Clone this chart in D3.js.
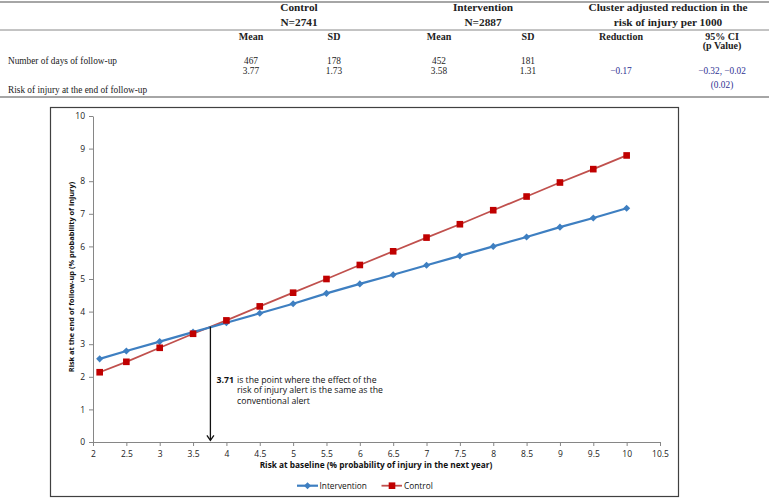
<!DOCTYPE html>
<html><head><meta charset="utf-8">
<script src="https://cdn.jsdelivr.net/npm/d3@7"></script>
<style>body{margin:0;background:#fff}svg{display:block}</style>
</head><body>
<svg id="c" width="769" height="499"></svg>
<script>
// ---- data ----
const baseline = [2.1,2.5,3,3.5,4,4.5,5,5.5,6,6.5,7,7.5,8,8.5,9,9.5,10];
const intervention = [2.55,2.79,3.08,3.37,3.66,3.95,4.24,4.56,4.85,5.13,5.42,5.71,6.00,6.29,6.59,6.87,7.17];
const control = [2.14,2.46,2.89,3.32,3.73,4.16,4.58,5.00,5.43,5.85,6.27,6.68,7.11,7.53,7.96,8.37,8.79];
const xTicks = [2,2.5,3,3.5,4,4.5,5,5.5,6,6.5,7,7.5,8,8.5,9,9.5,10,10.5];
const yTicks = [0,1,2,3,4,5,6,7,8,9,10];
const seriesNames = ["Intervention","Control"];
const crossPoint = 3.76;
const crossLabel = "3.71";

// table data
const groupHeaders = [["Control","N=2741"],["Intervention","N=2887"],["Cluster adjusted reduction in the","risk of injury per 1000"]];
const colHeaders = ["Mean","SD","Mean","SD","Reduction","95% CI"];
const rowLabels = ["Number of days of follow-up","Risk of injury at the end of follow-up"];
const row1 = ["467","178","452","181","",""];
const row2 = ["3.77","1.73","3.58","1.31","\u22120.17","\u22120.32, \u22120.02"];

const svg = d3.select("#c");

// ---- table ----
const serif = "'Liberation Serif', 'Times New Roman', serif";
const colX = [251,334,439,528,621,722];
const groupX = [299,483,668];
const tbl = svg.append("g").attr("font-family", serif).attr("font-size", 9.3).attr("fill","#222");
[[2,1.3],[30,1],[97,1.3]].forEach(([y,w]) => tbl.append("line").attr("x1",0).attr("x2",769).attr("y1",y).attr("y2",y).attr("stroke","#888").attr("stroke-width",w));
groupHeaders.forEach((g,i) => g.forEach((t,j) => tbl.append("text").attr("x",groupX[i]).attr("y",11+j*14.5).attr("text-anchor","middle").attr("font-weight","bold").attr("font-size",11.3).text(t)));
colHeaders.forEach((t,i) => tbl.append("text").attr("x",colX[i]).attr("y",39.5).attr("text-anchor","middle").attr("font-weight","bold").attr("font-size",10).text(t));
tbl.append("text").attr("x",colX[5]).attr("y",49).attr("text-anchor","middle").attr("font-weight","bold").attr("font-size",10).text("(p Value)");
tbl.append("text").attr("x",8).attr("y",64).text(rowLabels[0]);
tbl.append("text").attr("x",8).attr("y",93).text(rowLabels[1]);
row1.forEach((t,i) => tbl.append("text").attr("x",colX[i]).attr("y",63.5).attr("text-anchor","middle").text(t));
row2.forEach((t,i) => tbl.append("text").attr("x",colX[i]).attr("y",73.5).attr("text-anchor","middle").attr("fill", i>=4 ? "#2E3192" : "#222").text(t));
tbl.append("text").attr("x",colX[5]).attr("y",87.5).attr("text-anchor","middle").attr("fill","#2E3192").text("(0.02)");

// ---- chart ----
svg.append("rect").attr("x",50.5).attr("y",107.5).attr("width",628).attr("height",389).attr("fill","#fff").attr("stroke","#404040").attr("stroke-width",1.2);

const x = d3.scaleLinear().domain([2,10.5]).range([93,660]);
const y = d3.scaleLinear().domain([0,10]).range([442,116]);
const sans = "'Open Sans', 'DejaVu Sans', sans-serif";

const xAxis = svg.append("g").attr("transform","translate(0,442)")
  .call(d3.axisBottom(x).tickValues(xTicks).tickSize(4).tickSizeOuter(0).tickFormat(d3.format("")));
const yAxis = svg.append("g").attr("transform","translate(93,0)")
  .call(d3.axisLeft(y).tickValues(yTicks).tickSize(4).tickSizeOuter(0));
[xAxis,yAxis].forEach(a => {
  a.selectAll("path,line").attr("stroke","#868686");
  a.selectAll("text").attr("font-family",sans).attr("font-size",8.5).attr("fill","#222");
});
xAxis.selectAll("text").attr("dy","0.9em");
yAxis.selectAll("text").attr("x",-8);

// axis titles
svg.append("text").attr("x",376).attr("y",468).attr("text-anchor","middle").attr("font-family",sans)
  .attr("font-size",8.3).attr("font-weight","bold").attr("fill","#111").text("Risk at baseline (% probability of injury in the next year)");
svg.append("text").attr("transform","translate(74,277) rotate(-90)").attr("text-anchor","middle").attr("font-family",sans)
  .attr("font-size",7.4).attr("font-weight","bold").attr("fill","#111").text("Risk at the end of follow-up (% probability of injury)");

// series
const blue = "#3E7FC1", redLine = "#C0504D", redMark = "#C00000";
const line = d3.line().x(d => x(d[0])).y(d => y(d[1]));
const intData = baseline.map((b,i) => [b, intervention[i]]);
const ctlData = baseline.map((b,i) => [b, control[i]]);
svg.append("path").datum(ctlData).attr("d",line).attr("fill","none").attr("stroke",redLine).attr("stroke-width",1.8);
svg.append("path").datum(intData).attr("d",line).attr("fill","none").attr("stroke",blue).attr("stroke-width",2.2);
const diamond = d3.symbol().type(d3.symbolDiamond2).size(32);
const square = d3.symbol().type(d3.symbolSquare).size(44);
svg.append("g").selectAll("path").data(intData).join("path")
  .attr("transform", d => `translate(${x(d[0])},${y(d[1])})`).attr("d",diamond).attr("fill",blue);
svg.append("g").selectAll("path").data(ctlData).join("path")
  .attr("transform", d => `translate(${x(d[0])},${y(d[1])})`).attr("d",square).attr("fill",redMark);

// arrow annotation
const ax = x(crossPoint);
svg.append("line").attr("x1",ax).attr("x2",ax).attr("y1",y(3.54)).attr("y2",y(0.05)).attr("stroke","#111").attr("stroke-width",1.3);
svg.append("path").attr("d",`M${ax-3.5},${y(0.05)-5} L${ax},${y(0.05)} L${ax+3.5},${y(0.05)-5}`).attr("fill","none").attr("stroke","#111").attr("stroke-width",1.3);
const ann = svg.append("g").attr("font-family",sans).attr("font-size",8.7).attr("fill","#111");
ann.append("text").attr("x",216.5).attr("y",382.5).attr("font-weight","bold").text(crossLabel);
ann.append("text").attr("x",237).attr("y",382.5).text("is the point where the effect of the");
ann.append("text").attr("x",237).attr("y",393.3).text("risk of injury alert is the same as the");
ann.append("text").attr("x",237).attr("y",404.1).text("conventional alert");

// legend
const lg = svg.append("g").attr("font-family",sans).attr("font-size",8.3).attr("fill","#111");
const ly = 485.7;
lg.append("line").attr("x1",297).attr("x2",318).attr("y1",ly).attr("y2",ly).attr("stroke",blue).attr("stroke-width",2.2);
lg.append("path").attr("transform",`translate(307.5,${ly})`).attr("d",diamond).attr("fill",blue);
lg.append("text").attr("x",319.5).attr("y",ly+3).text(seriesNames[0]);
lg.append("line").attr("x1",381.5).attr("x2",402).attr("y1",ly).attr("y2",ly).attr("stroke",redLine).attr("stroke-width",1.8);
lg.append("path").attr("transform",`translate(392,${ly})`).attr("d",square).attr("fill",redMark);
lg.append("text").attr("x",404).attr("y",ly+3).text(seriesNames[1]);
</script>
</body></html>
